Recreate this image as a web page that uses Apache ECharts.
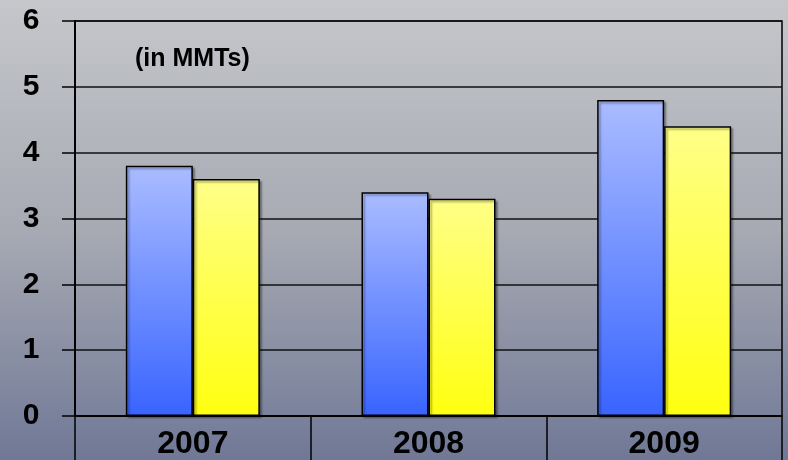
<!DOCTYPE html>
<html>
<head>
<meta charset="utf-8">
<script src="https://cdn.jsdelivr.net/npm/echarts@6/dist/echarts.min.js"></script>
<style>html,body{margin:0;padding:0;}#c{width:788px;height:460px;}</style>
</head>
<body>
<div id="c"></div>
<script>
var categories = ['2007', '2008', '2009'];
var seriesBlue = [3.8, 3.4, 4.8];
var seriesYellow = [3.6, 3.3, 4.4];
var yTicks = { min: 0, max: 6, interval: 1 };
var unitNote = '(in MMTs)';

var chart = echarts.init(document.getElementById('c'));
var G = echarts.graphic.LinearGradient;
var font = "'Liberation Sans', Arial, sans-serif";
chart.setOption({
  backgroundColor: new G(0, 0, 0, 1, [
    { offset: 0, color: '#c5c7cb' },
    { offset: 0.5, color: '#a7aab3' },
    { offset: 1, color: '#707896' }
  ]),
  animation: false,
  grid: { left: 75, right: 6, top: 21, bottom: 44, show: true, borderColor: '#000', borderWidth: 1.5, backgroundColor: 'transparent' },
  graphic: [{
    type: 'text', left: 135, top: 47,
    style: { text: unitNote, font: 'bold 25px ' + font, fill: '#000' }
  }],
  xAxis: {
    type: 'category', data: categories, boundaryGap: true,
    axisLine: { lineStyle: { color: '#000', width: 2 } },
    axisTick: { show: true, length: 44, alignWithLabel: false, lineStyle: { color: '#000', width: 1.5 } },
    axisLabel: { color: '#000', fontFamily: font, fontWeight: 'bold', fontSize: 32, margin: 12 },
    splitLine: { show: false }
  },
  yAxis: {
    type: 'value', min: yTicks.min, max: yTicks.max, interval: yTicks.interval,
    axisLine: { show: true, lineStyle: { color: '#000', width: 2 } },
    axisTick: { show: true, length: 13, lineStyle: { color: '#000', width: 1.5 } },
    axisLabel: { color: '#000', fontFamily: font, fontWeight: 'bold', fontSize: 30, margin: 44, align: 'center', padding: [3, 0, 0, 0] },
    splitLine: { show: true, lineStyle: { color: '#111', width: 1.5 } }
  },
  series: [{
    type: 'bar', data: seriesBlue, barWidth: 67, barGap: '0%',
    itemStyle: {
      color: new G(0, 0, 0, 1, [{ offset: 0, color: '#aabcff' }, { offset: 1, color: '#3864ff' }]),
      borderColor: '#000', borderWidth: 1.5,
      shadowColor: 'rgba(0,0,0,0.35)', shadowOffsetX: 2, shadowOffsetY: 2, shadowBlur: 2
    }
  }, {
    type: 'bar', data: seriesYellow, barWidth: 67, barGap: '0%',
    itemStyle: {
      color: new G(0, 0, 0, 1, [{ offset: 0, color: '#ffff88' }, { offset: 1, color: '#ffff10' }]),
      borderColor: '#000', borderWidth: 1.5,
      shadowColor: 'rgba(0,0,0,0.35)', shadowOffsetX: 2, shadowOffsetY: 2, shadowBlur: 2
    }
  }]
});
</script>
</body>
</html>
